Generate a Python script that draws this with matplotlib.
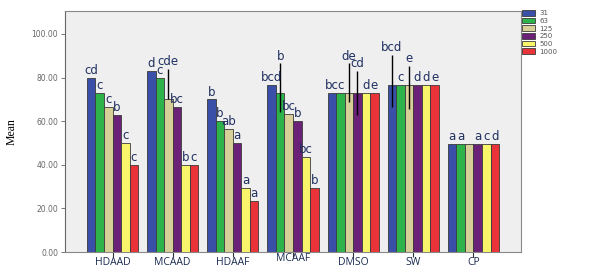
import matplotlib.pyplot as plt
import numpy as np

groups = ['HDAAD', 'MCAAD', 'HDAAF', 'MCAAF', 'DMSO', 'SW', 'CP']
doses = ['31', '63', '125', '250', '500', '1000']
colors = ['#3a50a8', '#2db34a', '#d6cf97', '#6b2178', '#f8f56b', '#ea3339']

# mean per group, one column per dose
means = np.array([
    [80, 73, 66.5, 63, 50, 40],
    [83, 80, 70, 66.5, 40, 40],
    [70, 60, 56.5, 50, 29.5, 23.5],
    [76.5, 73, 63.5, 60, 43.5, 29.5],
    [73, 73, 73, 73, 73, 73],
    [76.5, 76.5, 76.5, 76.5, 76.5, 76.5],
    [49.5, 49.5, 49.5, 49.5, 49.5, 49.5],
])

# visible error bar parts (upper / lower)
err_up = np.array([
    [0, 0, 0, 0, 0, 0],
    [0, 0, 14, 0, 0, 0],
    [0, 0, 0, 0, 0, 0],
    [0, 13.5, 0, 0, 0, 0],
    [0, 0, 13.5, 10, 0, 0],
    [14, 0, 9, 0, 0, 0],
    [0, 0, 0, 0, 0, 0],
])
err_dn = np.array([
    [0, 0, 0, 0, 0, 0],
    [0, 0, 0, 0, 0, 0],
    [0, 0, 0, 0, 0, 0],
    [0, 9, 0, 0, 0, 0],
    [0, 0, 4, 10, 0, 0],
    [10, 0, 11, 0, 0, 0],
    [0, 0, 0, 0, 0, 0],
])

letters = [
    ['cd', 'c', 'c', 'b', 'c', 'c'],
    ['d', 'c', 'cde', 'bc', 'b', 'c'],
    ['b', 'b', 'ab', 'a', 'a', 'a'],
    ['bcd', 'b', 'bc', 'b', 'bc', 'b'],
    ['bc', 'c', 'de', 'cd', 'd', 'e'],
    ['bcd', 'c', 'e', 'd', 'd', 'e'],
    ['a', 'a', '', 'a', 'c', 'd'],
]

fig = plt.figure(figsize=(5.89, 2.68), dpi=100)
ax = fig.add_axes([65 / 589, 16 / 268, 456 / 589, 241 / 268])
ax.set_facecolor('#efefef')

x = np.arange(len(groups))
w = 0.85 / len(doses)
handles = []
for j, d in enumerate(doses):
    xs = x + (j - 2.5) * w
    b = ax.bar(xs, means[:, j], width=w, color=colors[j],
               edgecolor='#3a3a3a', linewidth=0.6, label=d, zorder=2)
    handles.append(b)
    for i in range(len(groups)):
        if err_up[i, j] or err_dn[i, j]:
            ax.vlines(xs[i], means[i, j] - err_dn[i, j], means[i, j] + err_up[i, j],
                      color='black', linewidth=1, zorder=3)
        if letters[i][j]:
            ax.text(xs[i], means[i, j] + err_up[i, j] + 0.3, letters[i][j],
                    ha='center', va='bottom', fontsize=8.5, color='#1f2f5f',
                    family='DejaVu Sans', zorder=4)

ax.set_xlim(-0.79, 6.79)
ax.set_ylim(0, 110.5)
ax.set_yticks([0, 20, 40, 60, 80, 100])
ax.set_yticklabels(['0.00', '20.00', '40.00', '60.00', '80.00', '100.00'],
                   fontsize=5.5, color='#666666')
ax.set_xticks(x)
ax.set_xticklabels(groups, fontsize=7.5, family='Open Sans', color='#1a2a50')
ax.tick_params(axis='y', length=3, width=0.7, color='#777777', pad=2)
ax.tick_params(axis='x', length=3.5, width=0.8, color='#333333', pad=0)
ax.get_xticklabels()[3].set_y(0.015)
ax.set_ylabel('Mean', family='Liberation Serif', fontsize=8.5, labelpad=10)
for s in ax.spines.values():
    s.set_color('#888888')
    s.set_linewidth(0.8)
ax.spines['left'].set_color('#666666')

fig.legend(handles=handles, labels=doses, loc='upper left',
           bbox_to_anchor=(522 / 589, 1 - 10 / 268), frameon=False,
           fontsize=5, labelspacing=0.2, handlelength=1.9, handleheight=0.9,
           handletextpad=0.6, borderpad=0, borderaxespad=0, labelcolor='#555555')

fig.savefig('out.png', dpi=100)
